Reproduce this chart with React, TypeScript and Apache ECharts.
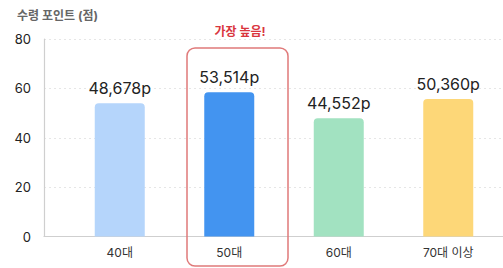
import React, { useEffect, useRef } from "react";
import * as echarts from "echarts";

const categories = ["40대", "50대", "60대", "70대 이상"];
const barValues = [54, 58.4, 47.9, 55.7];
const pointLabels = ["48,678p", "53,514p", "44,552p", "50,360p"];
const barColors = ["#b5d5fb", "#4394f0", "#a2e2c1", "#fdd778"];
const yTicks = [0, 20, 40, 60, 80];
const titleText = "수령 포인트 (점)";
const highlightText = "가장 높음!";

const FONT = "Inter, 'Noto Sans CJK KR', sans-serif";

export default function App() {
  const ref = useRef<HTMLDivElement>(null);
  useEffect(() => {
    if (!ref.current) return;
    const chart = echarts.init(ref.current, undefined, { renderer: "svg" });
    chart.setOption({
      animation: false,
      backgroundColor: "#ffffff",
      textStyle: { fontFamily: FONT },
      title: {
        text: titleText,
        left: 12,
        top: 4,
        textStyle: { fontSize: 12, fontWeight: "bold", color: "#666", fontFamily: FONT },
      },
      grid: [
        { left: 44, right: 0, top: 39, bottom: 31.5 },
        { left: 65, width: 441, top: 39, bottom: 31.5 },
      ],
      xAxis: [
        {
          gridIndex: 0,
          type: "category",
          data: categories,
          axisLine: { show: true, lineStyle: { color: "#cfcfcf", width: 1.2 } },
          axisTick: { show: false },
          axisLabel: { show: false },
        },
        {
          gridIndex: 1,
          type: "category",
          data: categories,
          axisLine: { show: false },
          axisTick: { show: false },
          axisLabel: { show: true, margin: 10, fontSize: 12, color: "#333", fontFamily: FONT },
        },
      ],
      yAxis: [
        {
          gridIndex: 0,
          type: "value",
          min: yTicks[0],
          max: yTicks[yTicks.length - 1],
          interval: yTicks[1] - yTicks[0],
          axisLine: { show: true, lineStyle: { color: "#cfcfcf", width: 1.2 } },
          axisTick: { show: false },
          axisLabel: { margin: 13, fontSize: 13, color: "#222", fontFamily: FONT },
          splitLine: { show: true, lineStyle: { color: "#e6e6e6", type: [2, 3] } },
        },
        {
          gridIndex: 1,
          type: "value",
          min: yTicks[0],
          max: yTicks[yTicks.length - 1],
          show: false,
          splitLine: { show: false },
        },
      ],
      series: [
        {
          type: "bar",
          xAxisIndex: 1,
          yAxisIndex: 1,
          barWidth: 50,
          data: barValues.map((v, i) => ({
            value: v,
            itemStyle: { color: barColors[i], borderRadius: [4, 4, 0, 0] },
            label: {
              show: true,
              position: "top",
              distance: 7,
              formatter: pointLabels[i],
              fontSize: 16,
              color: "#222",
              fontFamily: FONT,
            },
          })),
        },
      ],
      graphic: [
        {
          type: "rect",
          shape: { x: 187, y: 48, width: 101, height: 218, r: 8 },
          style: { fill: "none", stroke: "#e07a7a", lineWidth: 1.5 },
          z: 10,
        },
        {
          type: "text",
          x: 240,
          y: 31,
          style: {
            text: highlightText,
            fill: "#d9363e",
            fontSize: 12,
            fontWeight: "bold",
            fontFamily: FONT,
            align: "center",
            verticalAlign: "middle",
          },
          z: 10,
        },
      ],
    });
    return () => chart.dispose();
  }, []);
  return (
    <div
      ref={ref}
      style={{ position: "fixed", left: 0, top: 0, width: 503, height: 268 }}
    />
  );
}
